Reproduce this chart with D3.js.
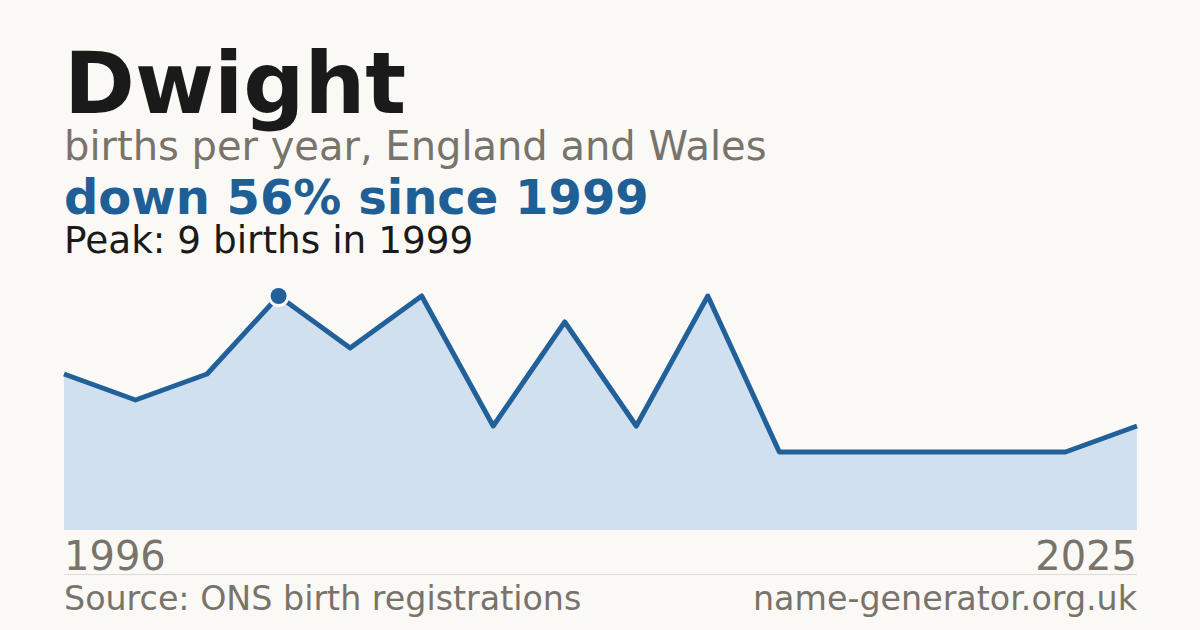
<!DOCTYPE html>
<html><head><meta charset="utf-8">
<script src="https://cdn.jsdelivr.net/npm/d3@7"></script>
<style>
html,body{margin:0;padding:0;background:#faf9f5;}
svg{display:block;font-family:"DejaVu Sans",sans-serif;}
</style></head>
<body>
<svg id="chart" width="1200" height="630"></svg>
<script>
const years = [1996,1997,1998,1999,2000,2001,2002,2003,2004,2005,2006,2007,2008,2009,2010,2025];
const births = [6,5,6,9,7,9,4,8,4,9,3,3,3,3,3,4];
const axisLabels = ["1996","2025"];
const title = "Dwight";
const subtitle = "births per year, England and Wales";
const headline = "down 56% since 1999";
const peakNote = "Peak: 9 births in 1999";
const sourceText = "Source: ONS birth registrations";
const siteText = "name-generator.org.uk";

const W = 1200, H = 630, L = 64, R = 1137, T = 296, B = 530;
const svg = d3.select("#chart");
svg.append("rect").attr("width",W).attr("height",H).attr("fill","#faf9f5");

const x = d3.scalePoint().domain(years).range([L,R]);
const y = d3.scaleLinear().domain([0,d3.max(births)]).range([B,T]);
const data = years.map((yr,i)=>({yr,v:births[i]}));

svg.append("path").datum(data)
  .attr("d", d3.area().x(d=>x(d.yr)).y0(B).y1(d=>y(d.v)))
  .attr("fill","#d0e0ef");
svg.append("path").datum(data)
  .attr("d", d3.line().x(d=>x(d.yr)).y(d=>y(d.v)))
  .attr("fill","none").attr("stroke","#22609a").attr("stroke-width",5)
  .attr("stroke-linejoin","round");

const peakIdx = births.indexOf(d3.max(births));
const px = x(years[peakIdx]), py = y(births[peakIdx]);
svg.append("circle").attr("cx",px).attr("cy",py).attr("r",11).attr("fill","#faf9f5");
svg.append("circle").attr("cx",px).attr("cy",py).attr("r",8).attr("fill","#22609a");

svg.append("text").attr("x",L).attr("y",113).attr("font-size",85.5).attr("font-weight","bold")
  .attr("fill","#1a1a1a").text(title);
svg.append("text").attr("x",L).attr("y",160).attr("font-size",40)
  .attr("fill","#78736b").text(subtitle);
svg.append("text").attr("x",L).attr("y",214).attr("font-size",48).attr("font-weight","bold")
  .attr("fill","#1f5f96").text(headline);
svg.append("text").attr("x",L).attr("y",253).attr("font-size",37.4)
  .attr("fill","#1a1a1a").text(peakNote);

svg.append("text").attr("x",L).attr("y",570).attr("font-size",40)
  .attr("fill","#78736b").text(axisLabels[0]);
svg.append("text").attr("x",R).attr("y",570).attr("font-size",40).attr("text-anchor","end")
  .attr("fill","#78736b").text(axisLabels[1]);

svg.append("line").attr("x1",L).attr("x2",R).attr("y1",574.5).attr("y2",574.5)
  .attr("stroke","#dddbd5").attr("stroke-width",1);

svg.append("text").attr("x",L).attr("y",610).attr("font-size",33.3)
  .attr("fill","#78736b").text(sourceText);
svg.append("text").attr("x",R).attr("y",610).attr("font-size",33.3).attr("text-anchor","end")
  .attr("fill","#78736b").text(siteText);
</script>
</body></html>
